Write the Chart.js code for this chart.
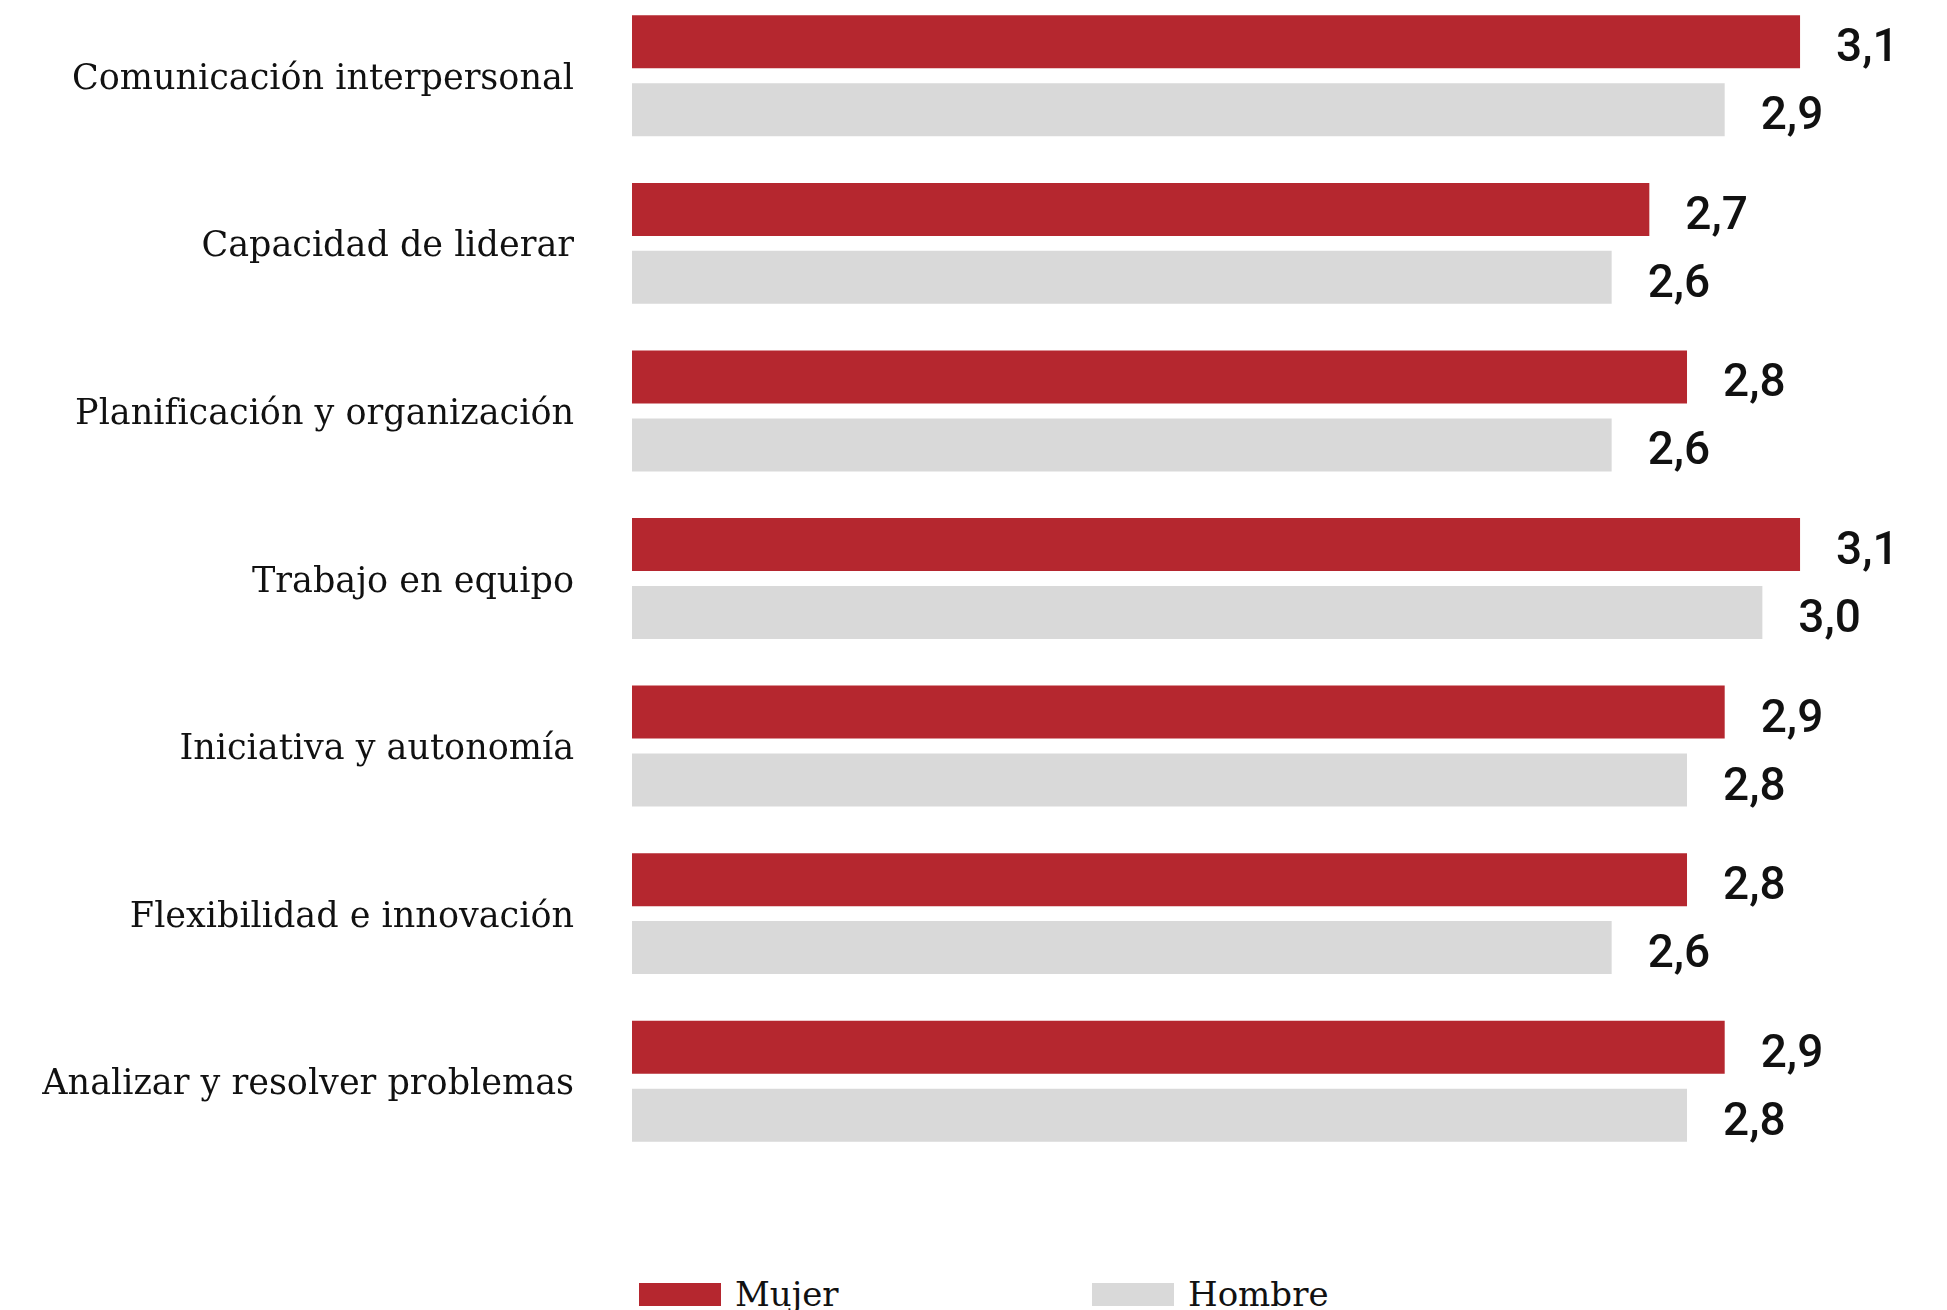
<!DOCTYPE html>
<html lang="es">
<head>
<meta charset="utf-8">
<title>Competencias por sexo</title>
<script src="https://cdn.jsdelivr.net/npm/chart.js@4/dist/chart.umd.min.js"></script>
<style>
    html, body {
        margin: 0;
        padding: 0;
        background: #ffffff;
        overflow: hidden;
        width: 1947px;
        height: 1310px;
    }
    #chartBox {
        position: absolute;
        left: 0;
        top: -8px;
        width: 1947px;
        height: 1173px;
    }
    .legend {
        position: absolute;
        top: 1274px;
        display: flex;
        align-items: center;
        font-family: "DejaVu Serif", serif;
        font-size: 34px;
        color: #111111;
    }
    .legend span.box {
        display: inline-block;
        width: 82px;
        height: 23px;
        margin-right: 14px;
    }
</style>
</head>
<body>
<div id="chartBox"><canvas id="skillsChart"></canvas></div>
<div class="legend" style="left:639px"><span class="box" style="background:#b5272f"></span>Mujer</div>
<div class="legend" style="left:1092px"><span class="box" style="background:#d9d9d9"></span>Hombre</div>

<script>
// Categories and values
const categories = [
    'Comunicación interpersonal',
    'Capacidad de liderar',
    'Planificación y organización',
    'Trabajo en equipo',
    'Iniciativa y autonomía',
    'Flexibilidad e innovación',
    'Analizar y resolver problemas'
];
const mujerValues = [3.1, 2.7, 2.8, 3.1, 2.9, 2.8, 2.9];
const hombreValues = [2.9, 2.6, 2.6, 3.0, 2.8, 2.6, 2.8];

// Draws the value next to the end of each bar
const valueLabels = {
    id: 'valueLabels',
    afterDatasetsDraw(chart) {
        const ctx = chart.ctx;
        ctx.save();
        ctx.font = '500 46px Roboto';
        ctx.fillStyle = '#111111';
        ctx.textAlign = 'left';
        ctx.textBaseline = 'middle';
        chart.data.datasets.forEach((ds, i) => {
            const meta = chart.getDatasetMeta(i);
            meta.data.forEach((bar, j) => {
                const txt = ds.data[j].toFixed(1).replace('.', ',');
                ctx.fillText(txt, bar.x + 36, bar.y + 8);
            });
        });
        ctx.restore();
    }
};

new Chart(document.getElementById('skillsChart'), {
    type: 'bar',
    data: {
        labels: categories,
        datasets: [
            {
                label: 'Mujer',
                data: mujerValues,
                backgroundColor: '#b5272f',
                borderWidth: 0
            },
            {
                label: 'Hombre',
                data: hombreValues,
                backgroundColor: '#d9d9d9',
                borderWidth: 0
            }
        ]
    },
    options: {
        indexAxis: 'y',
        responsive: true,
        maintainAspectRatio: false,
        animation: false,
        categoryPercentage: 0.811,
        barPercentage: 0.78,
        layout: { padding: 0 },
        plugins: {
            legend: { display: false },
            tooltip: { enabled: false }
        },
        scales: {
            x: {
                display: false,
                min: 0,
                max: 3.49
            },
            y: {
                grid: { display: false, drawTicks: false },
                border: { display: false },
                ticks: {
                    color: '#111111',
                    padding: 58,
                    labelOffset: 4,
                    font: { family: 'DejaVu Serif', size: 35 }
                },
                afterFit(scale) {
                    // fixed axis width, and no extra top/bottom room for the labels
                    scale.width = 632;
                    scale.paddingTop = 0;
                    scale.paddingBottom = 0;
                }
            }
        }
    },
    plugins: [valueLabels]
});
</script>
</body>
</html>
